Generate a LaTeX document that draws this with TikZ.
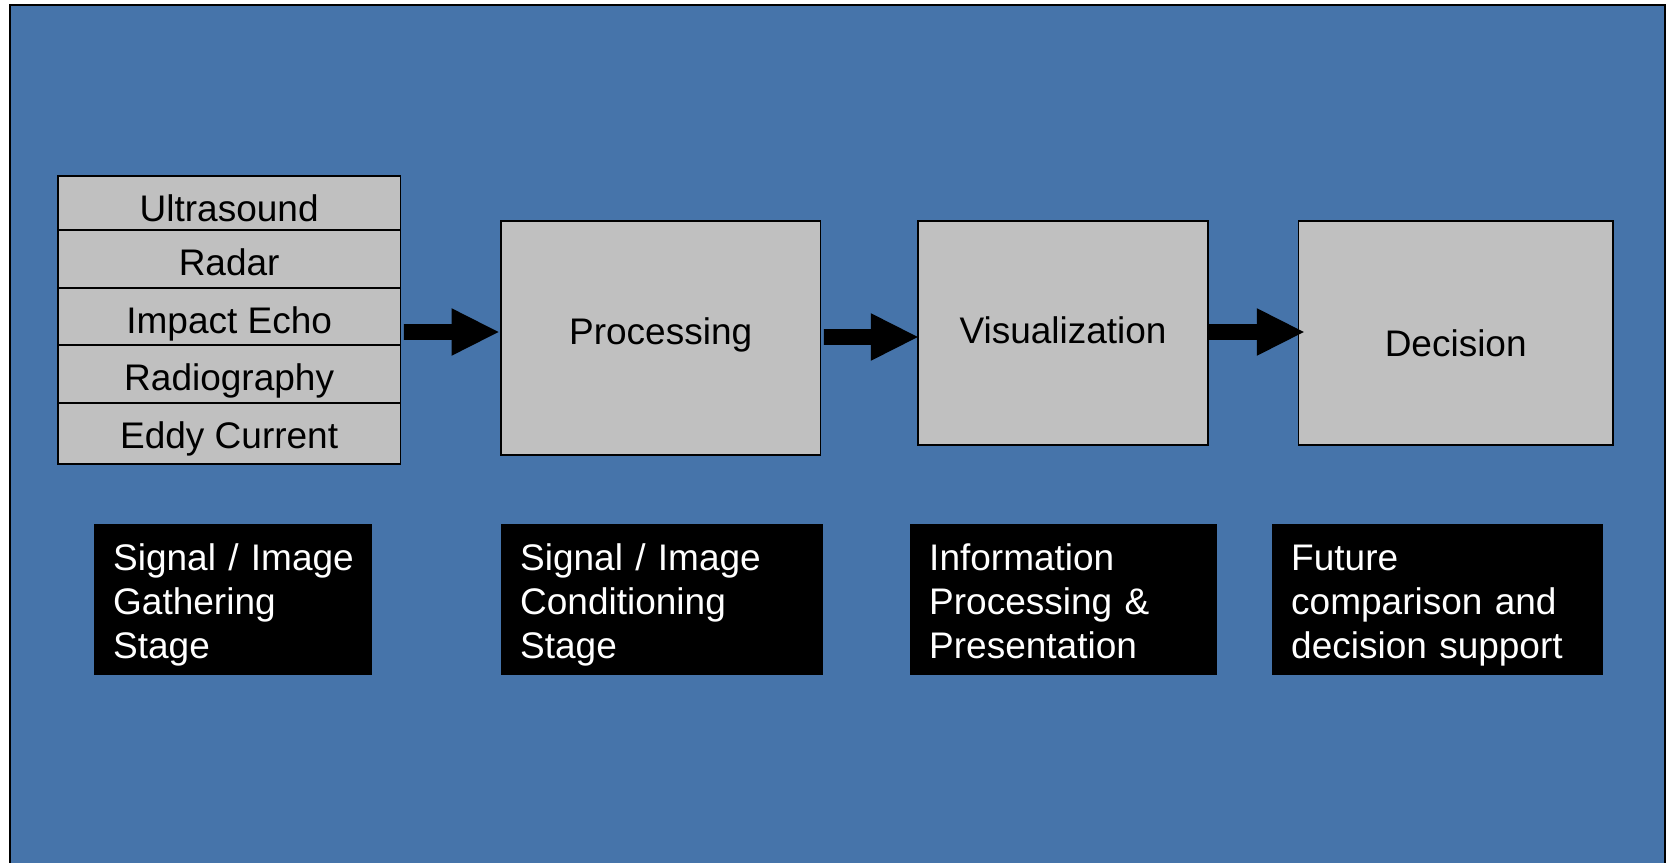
\documentclass[tikz,border=0pt]{standalone}
\usepackage{fontspec}
\setmainfont{Liberation Sans}
\usetikzlibrary{calc}
\definecolor{panelblue}{RGB}{70,116,170}
\definecolor{boxgray}{RGB}{192,192,192}
\begin{document}
\begin{tikzpicture}[x=1pt,y=-1pt,
  every node/.style={inner sep=0pt, font=\fontsize{37}{44.2}\selectfont},
  graybox/.style={draw=black, line width=1.6pt, fill=boxgray, anchor=north west, text depth=0pt},
  stagebox/.style={fill=black, anchor=north west, minimum height=150.7pt},
  stagetext/.style={text=white, anchor=base west, align=left, text width=320pt},
  blockarrow/.style={fill=black, to path={
    let \p1=(\tikztostart), \p2=(\tikztotarget) in
    (\x1,\y1+7.85pt) -- (\x2-47pt,\y1+7.85pt) -- (\x2-47pt,\y1+23.8pt) -- (\x2,\y1)
    -- (\x2-47pt,\y1-23.8pt) -- (\x2-47pt,\y1-7.85pt) -- (\x1,\y1-7.85pt) -- cycle}}
]
\useasboundingbox (0,0) rectangle (1669,862);

% blue panel
\draw[line width=2pt, fill=panelblue] (10,5) rectangle (1665,880);

% stack of inspection methods
\node[graybox, minimum width=342.3pt, minimum height=54pt, text height=38pt]   (r1) at (57.2,175) {Ultrasound};
\node[graybox, minimum width=342.3pt, minimum height=58pt, text height=34pt]   (r2) at (57.2,229) {Radar};
\node[graybox, minimum width=342.3pt, minimum height=57pt, text height=34.4pt] (r3) at (57.2,287) {Impact Echo};
\node[graybox, minimum width=342.3pt, minimum height=58pt, text height=32.6pt] (r4) at (57.2,344) {Radiography};
\node[graybox, minimum width=342.3pt, minimum height=61pt, text height=29.6pt] (r5) at (57.2,402) {Eddy Current};

% processing chain
\node[graybox, minimum width=319.3pt, minimum height=234pt, text height=12.6pt] (proc) at (500.2,220) {Processing};
\node[graybox, minimum width=290.1pt, minimum height=224pt, text height=22pt]   (vis)  at (917.2,220) {Visualization};
\node[graybox, minimum width=314.6pt, minimum height=224pt, text height=48pt]   (dec)  at (1297.6,220) {Decision};

% block arrows
\path[blockarrow] ($(r3.east |- 0,332)+(2.7,0)$) to ($(proc.west |- 0,332)+(-1.7,0)$);
\path[blockarrow] ($(proc.east |- 0,337)+(2.7,0)$) to ($(vis.west |- 0,337)+(0.6,0)$);
\path[blockarrow] (vis.east |- 0,332) to ($(dec.west |- 0,332)+(6.2,0)$);

% stage captions
\node[stagebox, minimum width=278pt]   (b1) at (94,524)   {};
\node[stagebox, minimum width=321.7pt] (b2) at (501,524)  {};
\node[stagebox, minimum width=306.7pt] (b3) at (910,524)  {};
\node[stagebox, minimum width=330.7pt] (b4) at (1272,524) {};
\node[stagetext] (t1) at ($(b1.north west)+(19,46)$) {Signal / Image\\Gathering\\Stage};
\node[stagetext] (t2) at ($(b2.north west)+(19,46)$) {Signal / Image\\Conditioning\\Stage};
\node[stagetext] (t3) at ($(b3.north west)+(19,46)$) {Information\\Processing \&\\Presentation};
\node[stagetext] (t4) at ($(b4.north west)+(19,46)$) {Future\\comparison and\\decision support};
\end{tikzpicture}
\end{document}
